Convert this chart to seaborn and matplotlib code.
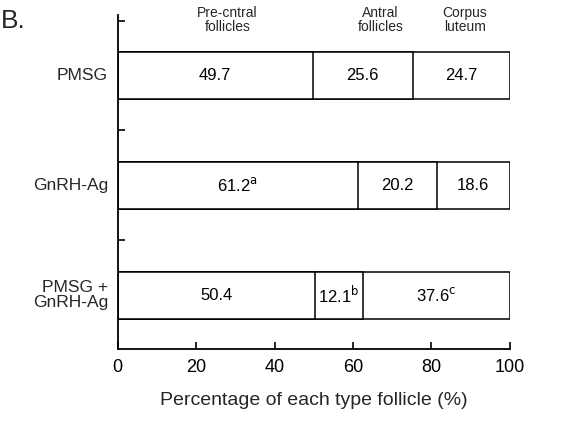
import numpy as np
import matplotlib
matplotlib.use('Agg')
import matplotlib.pyplot as plt
import seaborn as sns

groups = ['PMSG', 'GnRH-Ag', 'PMSG +\nGnRH-Ag']
pre_antral = [49.7, 61.2, 50.4]
antral = [25.6, 20.2, 12.1]
corpus = [24.7, 18.6, 37.6]
marks = [['', '', ''], ['a', '', ''], ['', 'b', 'c']]
col_names = ['Pre-cntral\nfollicles', 'Antral\nfollicles', 'Corpus\nluteum']

sns.set_theme(style='ticks')
plt.rcParams['font.family'] = ['Liberation Sans', 'DejaVu Sans']

fig = plt.figure(figsize=(5.69, 4.21), dpi=100)
ax = fig.add_axes([0.207, 0.171, 0.689, 0.793])

pre = np.array(pre_antral)
mid = pre + np.array(antral)
tot = mid + np.array(corpus)

# stacked look: draw cumulative bars from widest to narrowest, white with black edges
for vals in [tot, mid, pre]:
    sns.barplot(x=vals, y=groups, orient='h', color='white', edgecolor='black',
                linewidth=1.1, width=0.43, saturation=1, ax=ax)

segs = [np.zeros(3), pre, mid, tot]
seg_vals = [pre_antral, antral, corpus]
for i in range(3):
    for j in range(3):
        c = (segs[j][i] + segs[j + 1][i]) / 2
        s = f'{seg_vals[j][i]:.1f}'
        if marks[i][j]:
            s += r'$^{\mathrm{' + marks[i][j] + '}}$'
        ax.text(c, i, s, ha='center', va='center', fontsize=12, color='black')

ax.set_xlim(0, 100)
ax.set_ylim(2.49, -0.55)
ax.set_xticks([0, 20, 40, 60, 80, 100])
ax.set_yticks([-0.5, 0.5, 1.5])
ax.set_yticklabels([])
ax.tick_params(axis='both', direction='in', length=5, width=1.2, colors='black', labelsize=13)
ax.tick_params(axis='x', pad=7)
for i, g in enumerate(groups):
    ax.text(-0.025, i, g, transform=ax.get_yaxis_transform(), ha='right', va='center',
            fontsize=12.5, linespacing=1.05)
ax.set_ylabel('')
ax.set_xlabel('Percentage of each type follicle (%)', fontsize=14, labelpad=12)
sns.despine(ax=ax, top=True, right=True)
for sp in ['left', 'bottom']:
    ax.spines[sp].set_linewidth(1.3)
    ax.spines[sp].set_color('black')

col_x = [28, 67, 88.5]
for x, name in zip(col_x, col_names):
    ax.text(x, -0.38, name, ha='center', va='bottom', fontsize=10, linespacing=1.0)

fig.text(0.002, 0.95, 'B.', fontsize=19, ha='left', va='center')

fig.savefig('out.png', dpi=100)
